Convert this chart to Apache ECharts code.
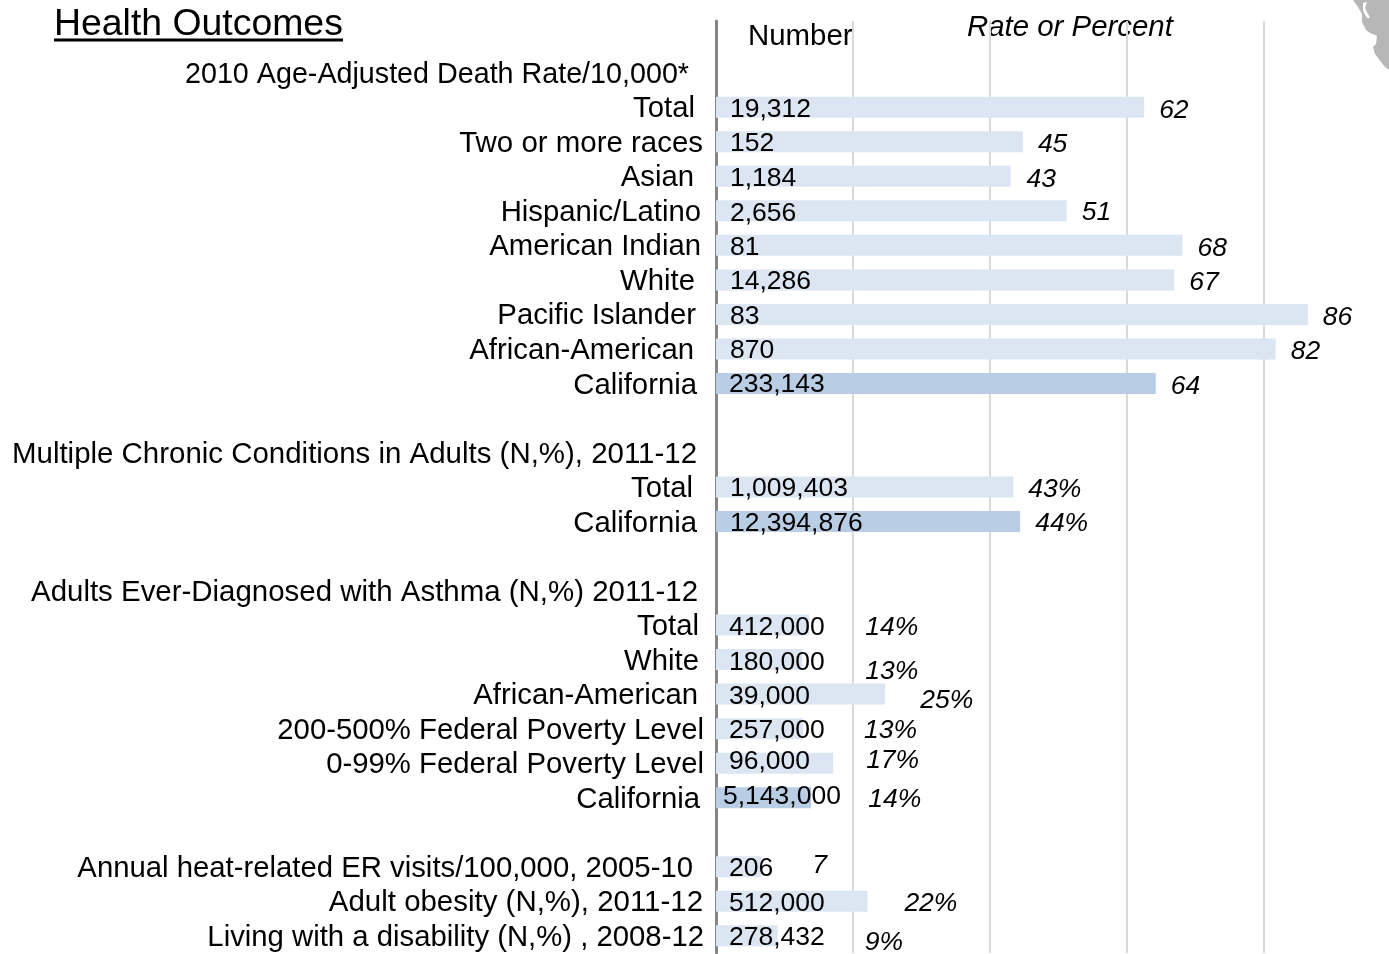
<!DOCTYPE html>
<html>
<head>
<meta charset="utf-8">
<title>Health Outcomes</title>
<script src="https://cdn.jsdelivr.net/npm/echarts@6/dist/echarts.min.js"></script>
<style>
  html, body { margin: 0; padding: 0; background: #fff; }
  #main { width: 1389px; height: 954px; }
</style>
</head>
<body>
<div id="main"></div>
<script>
// rows top to bottom, '' = spacer row
var categories = ['', '2010 Age-Adjusted Death Rate/10,000*', 'Total', 'Two or more races', 'Asian', 'Hispanic/Latino',
  'American Indian', 'White', 'Pacific Islander', 'African-American', 'California', '',
  'Multiple Chronic Conditions in Adults (N,%), 2011-12', 'Total', 'California', '',
  'Adults Ever-Diagnosed with Asthma (N,%) 2011-12', 'Total', 'White', 'African-American',
  '200-500% Federal Poverty Level', '0-99% Federal Poverty Level', 'California', '',
  'Annual heat-related ER visits/100,000, 2005-10', 'Adult obesity (N,%), 2011-12', 'Living with a disability (N,%) , 2008-12']

var numbers = [null, null, 19312, 152, 1184, 2656, 81, 14286, 83, 870, 233143, null,
  null, 1009403, 12394876, null,
  null, 412000, 180000, 39000, 257000, 96000, 5143000, null,
  206, 512000, 278432]

// bar lengths
var rates = [null, null, 62.5, 44.8, 43, 51.2, 68.1, 66.9, 86.4, 81.7, 64.2, null,
  null, 43.4, 44.4, null,
  null, 13.6, 12.6, 24.7, 12.7, 17.1, 13.9, null,
  6.6, 22.1, 9]

var rateLabels = ['', '', '62', '45', '43', '51', '68', '67', '86', '82', '64', '',
  '', '43%', '44%', '',
  '', '14%', '13%', '25%', '13%', '17%', '14%', '',
  '7', '22%', '9%']

// hand placed text in the original: per row nudges
var catPad = [0, 17, 11, 3, 12, 5, 5, 11, 10, 12, 9, 0, 9, 13, 9, 0, 8, 7, 7, 8, 2, 2, 6, 0, 13, 3, 2]
var catSize = [29.3, 28.7, 29.3, 29.45, 29.3, 29.3, 29.3, 29.3, 29.3, 29.3, 29.3, 29.3, 29.45, 29.3, 29.3, 29.3, 29.45,
  29.3, 29.3, 29.3, 29.3, 29.3, 29.3, 29.3, 29.3, 29.45, 29.3]
var numDx = [0, 0, 0, 0, 0, 0, 0, 0, 0, 0, -1, 0, 0, 0, 0, 0, 0, -1, -1, -1, -1, -1, -7, 0, -1, -1, -1]
var numDy = [0, 0, 2, 2, 2, 3, 2, 2, 2, 2, 1, 0, 0, 2, 2, 0, 0, 3, 3, 3, 2, -1, -1, 0, 2, 2, 2]
var rateDx = [0, 0, 15, 15, 16, 15, 15, 15, 15, 15, 15, 0, 0, 15, 15, 0, 0, 56, 63, 35, 61, 33, 57, 0, 51, 37, 87]
var rateDy = [0, 0, 3, 3, 3, 2, 3, 3, 3, 3, 3, 0, 0, 3, 2, 0, 0, 3, 12, 7, 2, -3, 2, 0, -1, 2, 7]

var font = '"Liberation Sans", Arial, sans-serif'

function fmt (n) {
  return String(n).replace(/\B(?=(\d{3})+$)/g, ',')
}

var catData = categories.map(function (c, i) {
  return {
    value: c,
    textStyle: {
      fontSize: catSize[i],
      lineHeight: 30,
      verticalAlign: 'top',
      padding: [-13, catPad[i], 0, 0]
    }
  }
})

var barData = rates.map(function (v, i) {
  if (v === null) return null
  return {
    value: v,
    itemStyle: { color: categories[i] === 'California' ? '#b9cde5' : '#dce6f2' },
    label: { offset: [rateDx[i], rateDy[i]] }
  }
})

var numData = numbers.map(function (v, i) {
  if (v === null) return null
  return { value: 0, label: { formatter: fmt(v), offset: [numDx[i], numDy[i]] } }
})

var myChart = echarts.init(document.getElementById('main'))

var option = {
  animation: false,
  backgroundColor: '#fff',
  textStyle: { fontFamily: font },
  title: {
    text: 'Health Outcomes',
    left: 54,
    top: 6,
    padding: 0,
    textStyle: { fontFamily: font, fontSize: 37.4, fontWeight: 'normal', color: '#000' }
  },
  grid: { left: 716, width: 671.3, top: 21, height: 932 },
  xAxis: {
    type: 'value',
    min: 0,
    max: 98,
    interval: 20,
    axisLabel: { show: false },
    axisLine: { show: false },
    axisTick: { show: false },
    splitLine: { showMaxLine: false, lineStyle: { color: '#d9d9d9', width: 2 } }
  },
  yAxis: {
    type: 'category',
    inverse: true,
    data: catData,
    axisTick: { show: false },
    axisLine: { lineStyle: { color: '#868686', width: 3 } },
    axisLabel: {
      interval: 0,
      margin: 10,
      fontFamily: font,
      fontSize: 29.3,
      color: '#000'
    }
  },
  series: [
    {
      name: 'Rate or Percent',
      type: 'bar',
      barWidth: 21,
      barGap: '-100%',
      data: barData,
      label: {
        show: true,
        position: 'right',
        distance: 0,
        fontFamily: font,
        fontSize: 26.5,
        fontStyle: 'italic',
        color: '#000',
        formatter: function (p) { return rateLabels[p.dataIndex] }
      }
    },
    {
      name: 'Number',
      type: 'bar',
      barWidth: 21,
      data: numData,
      itemStyle: { color: 'transparent' },
      label: {
        show: true,
        position: 'right',
        distance: 14,
        fontFamily: font,
        fontSize: 26.5,
        color: '#000'
      },
      z: 3
    }
  ],
  graphic: [
    { type: 'line', shape: { x1: 54, y1: 40, x2: 343, y2: 40 }, style: { stroke: '#000', lineWidth: 3 } },
    { type: 'text', x: 748, y: 37, style: { text: 'Number', font: '29.4px ' + font, fill: '#000', verticalAlign: 'middle' } },
    { type: 'text', x: 967, y: 28, style: { text: 'Rate or Percent', font: 'italic 29.4px ' + font, fill: '#000', verticalAlign: 'middle' } },
    // corner of the state map behind the chart
    { type: 'polygon', z: -1, shape: { points: [[1353, 0], [1358, 7], [1362, 14], [1362, 22], [1366, 30], [1370, 33], [1377, 36], [1376, 44], [1373, 47], [1375, 54], [1381, 62], [1385, 67], [1389, 70], [1389, 0]] }, style: { fill: '#b7b7b7' } },
    { type: 'polygon', z: -1, shape: { points: [[1363, 3], [1367, 2], [1365, 8], [1370, 18], [1367, 18], [1363, 11]] }, style: { fill: '#fff' } }
  ]
}

myChart.setOption(option)
</script>
</body>
</html>
